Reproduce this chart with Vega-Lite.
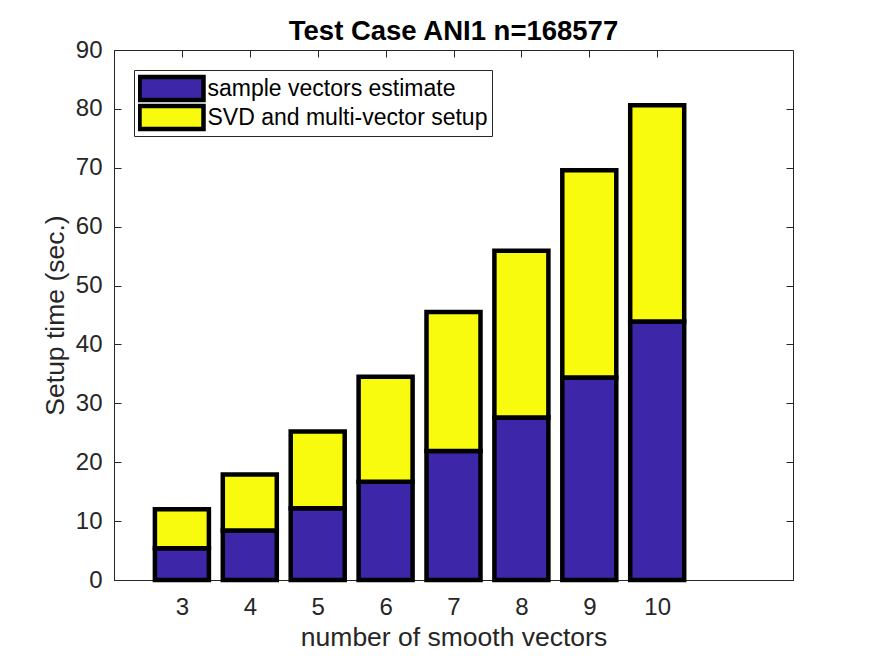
{
  "$schema": "https://vega.github.io/schema/vega-lite/v6.json",
  "autosize": {"type": "none"},
  "width": 679,
  "height": 530,
  "padding": {"left": 114, "top": 50, "right": 82, "bottom": 76},
  "background": "white",
  "config": {
    "view": {"stroke": "#262626", "strokeWidth": 1},
    "font": "Liberation Sans",
    "axis": {
      "grid": false,
      "domainColor": "#262626",
      "tickColor": "#262626",
      "tickSize": -7,
      "labelColor": "#262626",
      "labelFontSize": 24,
      "titleColor": "#262626",
      "titleFontSize": 26.5,
      "titleFontWeight": "normal"
    }
  },
  "title": {
    "text": "Test Case ANI1 n=168577",
    "fontSize": 27.5,
    "fontWeight": "bold",
    "color": "black",
    "baseline": "alphabetic",
    "offset": -29
  },
  "data": {
    "values": [
      {"n": 3, "part": "sample vectors estimate", "k": 1, "t": 5.4},
      {"n": 3, "part": "SVD and multi-vector setup", "k": 2, "t": 6.6},
      {"n": 4, "part": "sample vectors estimate", "k": 1, "t": 8.4},
      {"n": 4, "part": "SVD and multi-vector setup", "k": 2, "t": 9.5},
      {"n": 5, "part": "sample vectors estimate", "k": 1, "t": 12.2},
      {"n": 5, "part": "SVD and multi-vector setup", "k": 2, "t": 13.0},
      {"n": 6, "part": "sample vectors estimate", "k": 1, "t": 16.7},
      {"n": 6, "part": "SVD and multi-vector setup", "k": 2, "t": 17.8},
      {"n": 7, "part": "sample vectors estimate", "k": 1, "t": 21.9},
      {"n": 7, "part": "SVD and multi-vector setup", "k": 2, "t": 23.6},
      {"n": 8, "part": "sample vectors estimate", "k": 1, "t": 27.6},
      {"n": 8, "part": "SVD and multi-vector setup", "k": 2, "t": 28.3},
      {"n": 9, "part": "sample vectors estimate", "k": 1, "t": 34.4},
      {"n": 9, "part": "SVD and multi-vector setup", "k": 2, "t": 35.2},
      {"n": 10, "part": "sample vectors estimate", "k": 1, "t": 43.9},
      {"n": 10, "part": "SVD and multi-vector setup", "k": 2, "t": 36.7}
    ]
  },
  "layer": [
    {
      "mark": {"type": "bar", "width": 54, "stroke": "black", "strokeWidth": 4.5, "strokeJoin": "miter", "opacity": 1},
      "encoding": {
        "x": {
          "field": "n",
          "type": "quantitative",
          "scale": {"domain": [2, 12], "nice": false, "zero": false, "padding": 0},
          "axis": {
            "orient": "bottom",
            "values": [3, 4, 5, 6, 7, 8, 9, 10],
            "format": "d",
            "labelPadding": 22,
            "title": "number of smooth vectors",
            "titlePadding": 5
          }
        },
        "y": {
          "field": "t",
          "type": "quantitative",
          "stack": "zero",
          "scale": {"domain": [0, 90], "nice": false, "padding": 0},
          "axis": {
            "orient": "left",
            "values": [0, 10, 20, 30, 40, 50, 60, 70, 80, 90],
            "labelPadding": 19,
            "title": "Setup time (sec.)",
            "titlePadding": 6
          }
        },
        "order": {"field": "k", "type": "quantitative", "sort": "ascending"},
        "color": {
          "field": "part",
          "type": "nominal",
          "scale": {
            "domain": ["sample vectors estimate", "SVD and multi-vector setup"],
            "range": ["#3e26a8", "#f9fb0e"]
          },
          "legend": {
            "orient": "none",
            "legendX": 20,
            "legendY": 20,
            "title": null,
            "strokeColor": "#262626",
            "fillColor": "white",
            "padding": 4,
            "symbolType": "M-2.667,-0.958H2.667V0.958H-2.667Z",
            "symbolSize": 576,
            "symbolOffset": 19,
            "symbolStrokeColor": "black",
            "symbolStrokeWidth": 4.5,
            "symbolOpacity": 1,
            "labelFontSize": 23,
            "labelColor": "black",
            "labelOffset": 21.5,
            "labelLimit": 0,
            "clipHeight": 29,
            "rowPadding": 0
          }
        }
      }
    },
    {
      "mark": {"type": "point", "opacity": 0},
      "encoding": {
        "x": {
          "field": "n",
          "type": "quantitative",
          "scale": {"domain": [2, 12], "nice": false, "zero": false, "padding": 0},
          "axis": {"orient": "top", "values": [3, 4, 5, 6, 7, 8, 9, 10], "labels": false, "domain": false, "title": null}
        },
        "y": {
          "field": "t",
          "type": "quantitative",
          "scale": {"domain": [0, 90], "nice": false, "padding": 0},
          "axis": {"orient": "right", "values": [0, 10, 20, 30, 40, 50, 60, 70, 80, 90], "labels": false, "domain": false, "title": null}
        }
      }
    }
  ],
  "resolve": {"axis": {"x": "independent", "y": "independent"}}
}
